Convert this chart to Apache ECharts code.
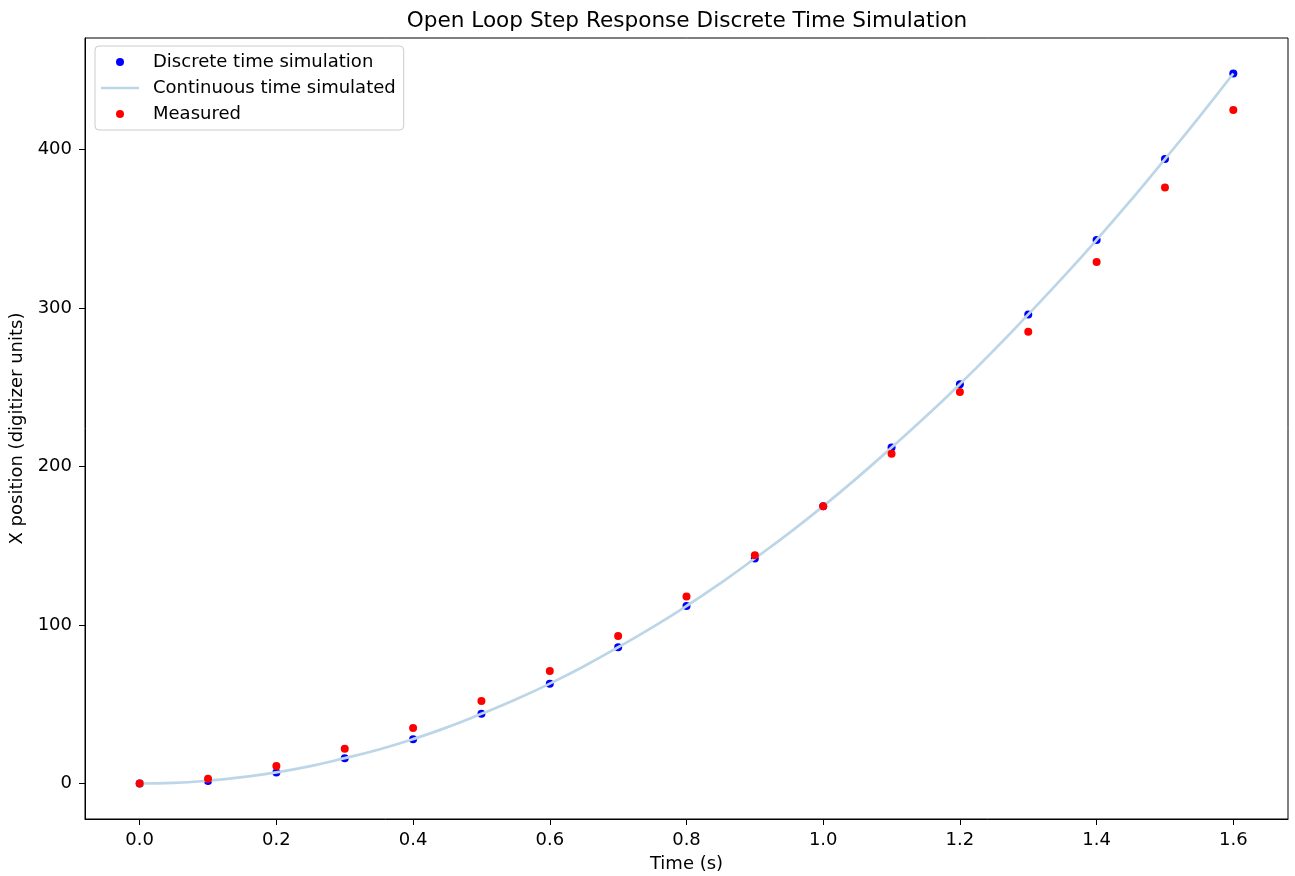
<!DOCTYPE html>
<html>
<head>
<meta charset="utf-8">
<title>Open Loop Step Response</title>
<script src="https://cdn.jsdelivr.net/npm/echarts@6/dist/echarts.min.js"></script>
<style>
    html, body { margin: 0; padding: 0; background: #fff; }
    #main { width: 1295px; height: 876px; }
</style>
</head>
<body>
<div id="main"></div>
<script>
// 采样时间 (s)
var timeSteps = [0.0, 0.1, 0.2, 0.3, 0.4, 0.5, 0.6, 0.7, 0.8, 0.9, 1.0, 1.1, 1.2, 1.3, 1.4, 1.5, 1.6];
// 离散仿真
var discreteSim = [0, 1.5, 7, 16, 28, 44, 63, 86, 112, 142, 175, 212, 252, 296, 343, 394, 448];
// 实测
var measured = [0, 3, 11, 22, 35, 52, 71, 93, 118, 144, 175, 208, 247, 285, 329, 376, 425];
// 连续仿真曲线 (read every 0.05 s)
var contTime = [0.0, 0.05, 0.1, 0.15, 0.2, 0.25, 0.3, 0.35, 0.4, 0.45, 0.5, 0.55, 0.6, 0.65, 0.7, 0.75, 0.8,
    0.85, 0.9, 0.95, 1.0, 1.05, 1.1, 1.15, 1.2, 1.25, 1.3, 1.35, 1.4, 1.45, 1.5, 1.55, 1.6];
var contSim = [0, 0.4, 1.8, 4, 7, 11, 16, 21.5, 28, 35.5, 44, 53, 63, 74, 86, 98.5, 112,
    126.5, 142, 158, 175, 193, 212, 231.5, 252, 273.5, 296, 319, 343, 368, 394, 420.5, 448];
// 坐标轴刻度
var xTicks = [0.0, 0.2, 0.4, 0.6, 0.8, 1.0, 1.2, 1.4, 1.6];
var yTicks = [0, 100, 200, 300, 400];

function zip(xs, ys) {
    var out = [];
    for (var i = 0; i < xs.length; i++) {
        out.push([xs[i], ys[i]]);
    }
    return out;
}

var FONT = 'DejaVu Sans';
var myChart = echarts.init(document.getElementById('main'), null, {renderer: 'canvas'});

var option = {
    animation: false,
    backgroundColor: '#ffffff',
    textStyle: {fontFamily: FONT},
    title: {
        text: 'Open Loop Step Response Discrete Time Simulation',
        left: 682,
        textAlign: 'center',
        top: 5,
        textStyle: {fontFamily: FONT, fontSize: 21.6, fontWeight: 'normal', color: '#000'}
    },
    legend: {
        orient: 'vertical',
        left: 95,
        top: 46,
        padding: [7, 8, 7, 6],
        itemWidth: 38,
        itemHeight: 8,
        itemGap: 8,
        symbolKeepAspect: true,
        backgroundColor: '#fff',
        borderColor: '#cccccc',
        borderWidth: 1,
        borderRadius: 4,
        textStyle: {fontFamily: FONT, fontSize: 18, color: '#000', padding: [0, 0, 0, 9]},
        data: [
            {name: 'Discrete time simulation', icon: 'circle'},
            {name: 'Continuous time simulated', icon: 'path://M0,0L38,0L38,2.7L0,2.7Z'},
            {name: 'Measured', icon: 'circle'}
        ]
    },
    grid: {
        left: 85,
        right: 7,
        top: 38,
        bottom: 57,
        outerBoundsMode: 'none',
        containLabel: false,
        show: true,
        borderColor: '#000',
        borderWidth: 1
    },
    xAxis: {
        type: 'value',
        min: -0.08,
        max: 1.68,
        name: 'Time (s)',
        nameLocation: 'middle',
        nameGap: 36,
        nameTextStyle: {fontFamily: FONT, fontSize: 18, color: '#000'},
        axisLine: {show: true, onZero: false, lineStyle: {color: '#000', width: 1}},
        axisTick: {show: true, length: 6, customValues: xTicks, lineStyle: {color: '#000'}},
        axisLabel: {
            fontFamily: FONT, fontSize: 18, color: '#000', margin: 12,
            customValues: xTicks,
            formatter: function (v) { return v.toFixed(1); }
        },
        splitLine: {show: false}
    },
    yAxis: {
        type: 'value',
        min: -22.4,
        max: 470.4,
        name: 'X position (digitizer units)',
        nameLocation: 'middle',
        nameRotate: 90,
        nameGap: 56,
        nameTextStyle: {fontFamily: FONT, fontSize: 18, color: '#000'},
        axisLine: {show: true, onZero: false, lineStyle: {color: '#000', width: 1}},
        axisTick: {show: true, length: 6, customValues: yTicks, lineStyle: {color: '#000'}},
        axisLabel: {
            fontFamily: FONT, fontSize: 18, color: '#000', margin: 13,
            customValues: yTicks
        },
        splitLine: {show: false}
    },
    series: [
        {
            name: 'Discrete time simulation',
            type: 'scatter',
            symbolSize: 8,
            z: 3,
            itemStyle: {color: '#0000ff', opacity: 1},
            data: zip(timeSteps, discreteSim)
        },
        {
            name: 'Continuous time simulated',
            type: 'line',
            smooth: true,
            symbol: 'none',
            z: 4,
            lineStyle: {color: '#bcd6e8', width: 2.7},
            itemStyle: {color: '#bcd6e8'},
            data: zip(contTime, contSim)
        },
        {
            name: 'Measured',
            type: 'scatter',
            symbolSize: 8,
            z: 5,
            itemStyle: {color: '#ff0000', opacity: 1},
            data: zip(timeSteps, measured)
        }
    ]
};

myChart.setOption(option);
</script>
</body>
</html>
